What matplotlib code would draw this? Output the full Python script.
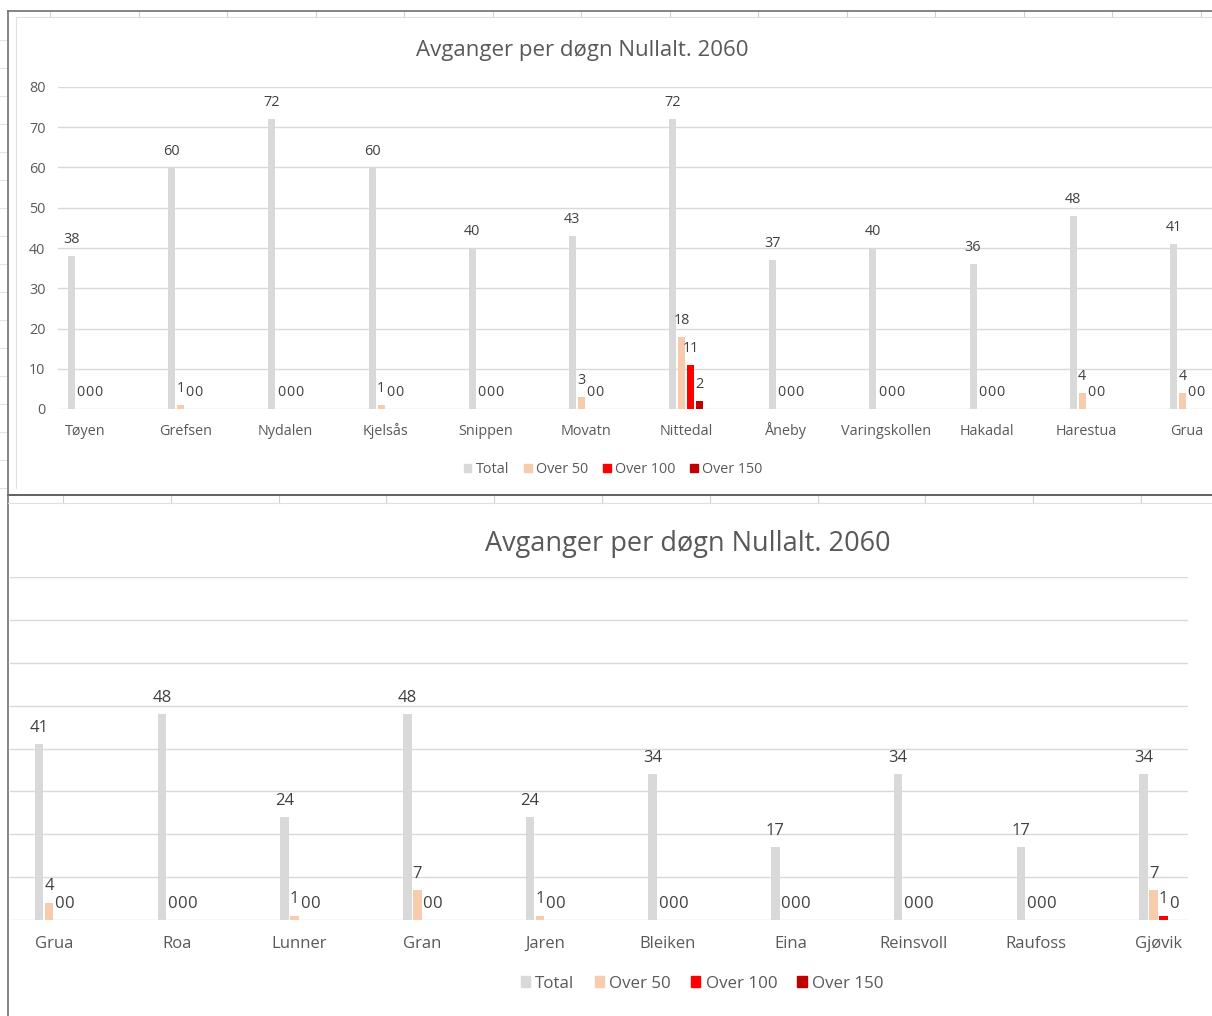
import matplotlib
matplotlib.use("Agg")
import matplotlib.pyplot as plt
from matplotlib.lines import Line2D
from matplotlib.patches import Patch
import numpy as np

plt.rcParams["font.family"] = ["Open Sans", "DejaVu Sans"]

W, H = 1212, 1016

series_names = ["Total", "Over 50", "Over 100", "Over 150"]
series_colors = ["#d9d9d9", "#f8cbad", "#ff0000", "#c00000"]
title = "Avganger per døgn Nullalt. 2060"

# first chart: Oslo - Grua
stations_a = ["Tøyen", "Grefsen", "Nydalen", "Kjelsås", "Snippen", "Movatn",
              "Nittedal", "Åneby", "Varingskollen", "Hakadal", "Harestua", "Grua"]
total_a = [38, 60, 72, 60, 40, 43, 72, 37, 40, 36, 48, 41]
over50_a = [0, 1, 0, 1, 0, 3, 18, 0, 0, 0, 4, 4]
over100_a = [0, 0, 0, 0, 0, 0, 11, 0, 0, 0, 0, 0]
over150_a = [0, 0, 0, 0, 0, 0, 2, 0, 0, 0, 0, 0]

# second chart: Grua - Gjøvik
stations_b = ["Grua", "Roa", "Lunner", "Gran", "Jaren", "Bleiken", "Eina",
              "Reinsvoll", "Raufoss", "Gjøvik"]
total_b = [41, 48, 24, 48, 24, 34, 17, 34, 17, 34]
over50_b = [4, 0, 1, 7, 1, 0, 0, 0, 0, 7]
over100_b = [0, 0, 0, 0, 0, 0, 0, 0, 0, 1]
over150_b = [0, 0, 0, 0, 0, 0, 0, 0, 0, 0]

TEXT = "#595959"
GRID = "#d9d9d9"


def px_rect(x0, y_top, x1, y_bot):
    """Convert pixel box (from top-left) to figure fraction rect."""
    return [x0 / W, 1 - y_bot / H, (x1 - x0) / W, (y_bot - y_top) / H]


def fig_line(fig, xs, ys, color, lw):
    fig.add_artist(Line2D([x / W for x in xs], [1 - y / H for y in ys],
                          color=color, lw=lw, transform=fig.transFigure))


def draw_chart(ax, names, series, pitch, width, fs, label_off, xlim, xpad):
    x = np.arange(len(names))
    for k, (vals, col) in enumerate(zip(series, series_colors)):
        pos = x + (k - 1.5) * pitch
        ax.bar(pos, vals, width=width, color=col, zorder=3)
        for p, v in zip(pos, vals):
            ax.annotate(str(v), (p, v), xytext=(0, label_off), textcoords="offset points",
                        ha="center", va="center", fontsize=fs, color="#404040", zorder=4)
    ax.set_xlim(*xlim)
    ax.set_ylim(0, 80)
    ax.set_yticks(np.arange(0, 81, 10))
    ax.yaxis.grid(True, color=GRID, lw=1.0, zorder=0)
    for s in ax.spines.values():
        s.set_visible(False)
    ax.set_xticks(x)
    ax.set_xticklabels(names)
    ax.tick_params(axis="x", length=0, pad=xpad, labelsize=fs, labelcolor=TEXT)
    ax.tick_params(axis="y", length=0, pad=9, labelsize=fs, labelcolor=TEXT)
    for lbl in ax.get_xticklabels():
        lbl.set_verticalalignment("baseline")


fig = plt.figure(figsize=(W / 100, H / 100), dpi=100)

# spreadsheet cell borders behind the charts
for y in range(40, 495, 28):
    fig_line(fig, [0, 8], [y, y], "#e3e3e3", 0.8)
for xc in np.arange(50, W, 88.5):
    fig_line(fig, [xc, xc], [11, 17], "#d0d0d0", 0.8)
for xc in np.arange(63, W, 107.8):
    fig_line(fig, [xc, xc], [495, 503], "#d0d0d0", 0.8)

# chart frames
fig_line(fig, [8, W], [11, 11], "#707070", 1.2)
fig_line(fig, [8, 8], [11, 495], "#707070", 1.2)
fig_line(fig, [16, W], [17, 17], "#e0e0e0", 0.8)
fig_line(fig, [16, 16], [17, 488], "#e0e0e0", 0.8)
fig_line(fig, [8, W], [495, 495], "#606060", 1.4)
fig_line(fig, [8, 8], [495, H], "#707070", 1.2)
fig_line(fig, [8, W], [503, 503], "#e0e0e0", 0.8)

# top chart
ax1 = fig.add_axes(px_rect(58, 87, W, 409))
draw_chart(ax1, stations_a, [total_a, over50_a, over100_a, over150_a],
           pitch=0.09, width=0.07, fs=10.4, label_off=11.8,
           xlim=(-0.27, 11.25), xpad=19)
fig.text(582 / W, 1 - 50.5 / H, title, ha="center", va="center",
         fontsize=16, color=TEXT)
handles = [Patch(color=c) for c in series_colors]
fig.legend(handles, series_names, loc="center", bbox_to_anchor=(613 / W, 1 - 469.5 / H),
           ncol=4, frameon=False, fontsize=10.4, labelcolor=TEXT,
           handlelength=0.55, handleheight=0.55, handletextpad=0.3, columnspacing=1.0)

# bottom chart
ax2 = fig.add_axes(px_rect(10, 577, 1188, 920))
draw_chart(ax2, stations_b, [total_b, over50_b, over100_b, over150_b],
           pitch=0.0815, width=0.07, fs=12, label_off=11.8,
           xlim=(-0.36, 9.24), xpad=20)
ax2.set_yticklabels([])
fig.text(688 / W, 1 - 543.5 / H, title, ha="center", va="center",
         fontsize=19.5, color=TEXT)
fig.legend(handles, series_names, loc="center", bbox_to_anchor=(702 / W, 1 - 983.5 / H),
           ncol=4, frameon=False, fontsize=12.2, labelcolor=TEXT,
           handlelength=0.55, handleheight=0.55, handletextpad=0.3, columnspacing=1.2)

fig.savefig("out.png", dpi=100)
